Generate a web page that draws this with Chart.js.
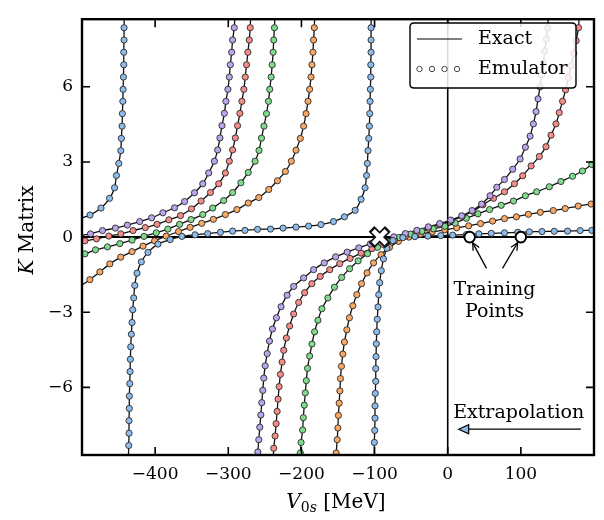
<!DOCTYPE html>
<html>
<head>
<meta charset="utf-8">
<script src="https://cdn.jsdelivr.net/npm/chart.js@4.4.0/dist/chart.umd.min.js"></script>
<style>
  html, body { margin: 0; padding: 0; background: #fff; }
  #wrap { width: 604px; height: 520px; }
</style>
</head>
<body>
<div id="wrap"><canvas id="kChart" width="604" height="520"></canvas></div>
<script>
// axis ranges and ticks
var xRange = [-500, 200];
var yRange = [-8.7, 8.7];
var xTickVals = [-400, -300, -200, -100, 0, 100];
var yTickVals = [-6, -3, 0, 3, 6];

// K matrix vs V0s, one array per branch (between the poles), [V0s, K]
var blue1 = [[-500,0.77],[-489,0.88],[-474,1.16],[-462.3,1.55],[-455.5,1.97],[-452.9,2.46],[-449.7,2.94],[-447,3.45],[-446.2,3.94],[-445.2,4.43],[-444.8,4.93],[-444.2,5.42],[-443.8,5.90],[-443.4,6.39],[-442.9,6.88],[-442.9,7.38],[-442.5,7.87],[-442.5,8.36],[-442.3,8.7]];
var blue2 = [[-436.5,-8.7],[-436.1,-8.32],[-435.7,-7.83],[-435.7,-7.33],[-435.3,-6.84],[-435.3,-6.35],[-434.7,-5.85],[-434.3,-5.37],[-433.9,-4.88],[-433.4,-4.38],[-432.5,-3.88],[-431.6,-3.41],[-430.6,-2.90],[-429.3,-2.43],[-427.9,-1.93],[-424.8,-1.44],[-418.9,-0.99],[-409.8,-0.61],[-396.2,-0.28],[-379.4,-0.10],[-363.5,0.03],[-345.4,0.09],[-328.1,0.14],[-310.8,0.19],[-294.1,0.24],[-277.3,0.27],[-260,0.31],[-242.3,0.32],[-225.1,0.36],[-207.4,0.40],[-190.2,0.44],[-173.3,0.50],[-156.2,0.62],[-141.2,0.81],[-126.6,1.07],[-118.4,1.51],[-113,1.97],[-111,2.46],[-109.9,2.94],[-108.9,3.45],[-108,3.94],[-107.1,4.43],[-106.6,4.93],[-106.2,5.42],[-105.8,5.90],[-105.2,6.39],[-105.2,6.88],[-104.8,7.38],[-104.8,7.87],[-104.8,8.36],[-104.6,8.7]];
var blue3 = [[-100.5,-8.7],[-100.3,-8.20],[-99.8,-7.72],[-99.4,-7.23],[-99.4,-6.74],[-99.0,-6.24],[-98.4,-5.76],[-98.4,-5.25],[-98.0,-4.77],[-97.6,-4.26],[-97.1,-3.78],[-96.3,-3.28],[-95.3,-2.79],[-94.3,-2.30],[-93.0,-1.82],[-90.8,-1.34],[-87.8,-0.87],[-83.0,-0.45],[-74.9,-0.14],[-61.3,-0.02],[-44.9,0.02],[-27.2,0.04],[-9.5,0.06],[6.8,0.08],[25.5,0.10],[42.6,0.13],[59.5,0.15],[77.6,0.17],[95.7,0.19],[111.6,0.21],[128.9,0.22],[145.7,0.23],[163.8,0.24],[181.1,0.26],[197,0.27],[200,0.27]];

var purple1 = [[-500,0.07],[-488.4,0.13],[-472,0.26],[-454.3,0.36],[-438,0.48],[-421.1,0.62],[-404.8,0.77],[-389.4,0.97],[-373.5,1.17],[-359.8,1.42],[-346.2,1.77],[-334.9,2.13],[-326.8,2.56],[-319,3.03],[-314.5,3.48],[-311.4,3.96],[-308.6,4.45],[-305.4,4.94],[-303.2,5.42],[-300.5,5.90],[-298.6,6.39],[-297.2,6.88],[-295.4,7.38],[-294.1,7.87],[-291.8,8.36],[-291.2,8.7]];
var purple2 = [[-260,-8.7],[-259.6,-8.58],[-258.3,-8.09],[-256.9,-7.59],[-255.5,-7.10],[-254.2,-6.61],[-252.8,-6.12],[-251.5,-5.63],[-249.6,-5.14],[-246.8,-4.65],[-243.7,-4.15],[-239.6,-3.67],[-234.2,-3.22],[-227.8,-2.78],[-219.6,-2.32],[-210.6,-1.97],[-197,-1.63],[-183.4,-1.30],[-168.8,-1.03],[-153.2,-0.79],[-137.5,-0.60],[-121.6,-0.43],[-105.8,-0.27],[-89.9,-0.13],[-73.5,0.01],[-57.9,0.14],[-42.2,0.27],[-26.5,0.41],[-10.9,0.54],[4.1,0.68],[19.1,0.85],[33.4,1.06],[46.3,1.32],[57.9,1.65],[67.1,1.99],[77.6,2.30],[88.9,2.71],[99,3.12],[106.2,3.59],[112.6,4.03],[117.1,4.52],[120.8,5.01],[123.5,5.52],[126.2,6.00],[128.4,6.47],[130.7,6.95],[132.7,7.43],[134.8,7.90],[136.6,8.36],[137.5,8.7]];

var red1 = [[-500,-0.17],[-496,-0.15],[-480.2,-0.07],[-463.3,0.04],[-447,0.13],[-430.2,0.26],[-413.5,0.38],[-397.5,0.51],[-381.2,0.69],[-365.3,0.86],[-350.3,1.13],[-337.2,1.44],[-324.4,1.78],[-313.1,2.13],[-304,2.56],[-298.6,3.03],[-294.1,3.48],[-290.4,3.96],[-287.3,4.45],[-284.1,4.94],[-281.4,5.42],[-278.7,5.90],[-276.8,6.39],[-275,6.88],[-273.2,7.38],[-271.3,7.87],[-270,8.36],[-269.5,8.7]];
var red2 = [[-238.3,-8.7],[-237.9,-8.43],[-236,-7.94],[-234.6,-7.45],[-233.2,-6.96],[-231.9,-6.47],[-230.5,-5.97],[-228.7,-5.48],[-226.4,-4.99],[-224.2,-4.52],[-220.6,-4.03],[-216.1,-3.55],[-210.6,-3.07],[-203.8,-2.61],[-195.6,-2.22],[-185.8,-1.86],[-174.3,-1.57],[-161.3,-1.30],[-147.7,-1.06],[-133.4,-0.85],[-118.4,-0.64],[-103.5,-0.46],[-88.5,-0.29],[-72.8,-0.12],[-57.9,0.04],[-42.2,0.19],[-26.5,0.35],[-10.9,0.50],[4.8,0.66],[19.7,0.83],[34.4,1.03],[48.1,1.29],[62.6,1.55],[77.6,1.81],[91.2,2.13],[102.5,2.45],[114,2.84],[125.3,3.22],[134.4,3.61],[141.2,4.07],[148,4.52],[152.5,4.97],[157,5.42],[161.1,5.88],[165.1,6.37],[168.8,6.85],[172.2,7.34],[175.6,7.84],[178.8,8.36],[179.5,8.7]];

var green1 = [[-500,-0.69],[-496,-0.67],[-481.6,-0.51],[-465.2,-0.39],[-448.3,-0.26],[-431.6,-0.12],[-415.2,0.03],[-398.5,0.17],[-382.6,0.32],[-366.6,0.51],[-350.9,0.70],[-334.9,0.90],[-321.3,1.16],[-306.3,1.46],[-294.1,1.78],[-282.8,2.17],[-272.7,2.58],[-263.4,3.03],[-258,3.46],[-254.6,3.95],[-251.2,4.43],[-247.8,4.93],[-245.1,5.42],[-243.3,5.90],[-241.4,6.39],[-240,6.88],[-238.7,7.38],[-237.9,7.87],[-236.9,8.36],[-236.5,8.7]];
var green2 = [[-201.7,-8.7],[-201.5,-8.62],[-200.5,-8.20],[-198.4,-7.70],[-197.4,-7.21],[-196.1,-6.71],[-194.7,-6.22],[-193.3,-5.73],[-191.6,-5.24],[-188.8,-4.75],[-185.6,-4.27],[-182,-3.78],[-177.4,-3.32],[-172,-2.86],[-163.8,-2.43],[-154.8,-2.00],[-145,-1.61],[-134.1,-1.26],[-122.5,-0.95],[-109.6,-0.66],[-96,-0.41],[-81.7,-0.19],[-66.7,-0.02],[-51.1,0.12],[-35.4,0.23],[-19.7,0.33],[-4.1,0.43],[10.2,0.56],[25.5,0.75],[41.3,0.93],[57.2,1.10],[73.1,1.27],[89.9,1.44],[106.2,1.65],[121.6,1.81],[138.9,2.01],[154.8,2.22],[170.6,2.43],[184.2,2.64],[197,2.90],[200,2.95]];

var orange1 = [[-500,-1.91],[-489.2,-1.70],[-475.6,-1.39],[-461.9,-1.07],[-447,-0.80],[-431.6,-0.58],[-416.6,-0.36],[-400.7,-0.15],[-384.9,0.04],[-368,0.22],[-352.2,0.39],[-336.3,0.55],[-320.4,0.71],[-304,0.90],[-288.2,1.10],[-272.7,1.36],[-258.3,1.58],[-244.7,1.90],[-232.8,2.25],[-221.9,2.62],[-213.8,3.03],[-207.4,3.47],[-201.5,3.94],[-197,4.43],[-193.7,4.93],[-191,5.42],[-188.8,5.90],[-186.9,6.39],[-185.6,6.88],[-184.2,7.38],[-183.4,7.87],[-182.4,8.36],[-182,8.7]];
var orange2 = [[-152.7,-8.7],[-152.5,-8.62],[-151.1,-8.09],[-150.2,-7.62],[-149.4,-7.12],[-148.4,-6.63],[-147.4,-6.14],[-146.6,-5.65],[-145.3,-5.16],[-143.4,-4.67],[-141.2,-4.19],[-137.9,-3.70],[-134.4,-3.22],[-129.7,-2.74],[-124.3,-2.30],[-117.8,-1.86],[-110.3,-1.43],[-101.4,-1.03],[-91.2,-0.70],[-79.6,-0.41],[-67.4,-0.17],[-53.1,0.00],[-37.4,0.12],[-21.1,0.21],[-4.1,0.29],[12.3,0.37],[28.6,0.45],[44.9,0.54],[61.3,0.64],[77.6,0.74],[93.9,0.81],[110.3,0.91],[126.6,0.99],[144.3,1.06],[160.6,1.14],[178.4,1.24],[196,1.32],[200,1.34]];

// training points and the marked point
var trainV = [30, 100];
var trainK = [0, 0];
var crossPoint = [-93, 0];

var SERIF = '"DejaVu Serif", "Liberation Serif", serif';
var BLUE = '#8bbcec', PURPLE = '#bca4ee', RED = '#f58c88', GREEN = '#7edb8c', ORANGE = '#f8a862';

var branches = [
  [blue1, BLUE], [blue2, BLUE], [blue3, BLUE],
  [purple1, PURPLE], [purple2, PURPLE],
  [red1, RED], [red2, RED],
  [green1, GREEN], [green2, GREEN],
  [orange1, ORANGE], [orange2, ORANGE]
];

function isEdge(p) {
  return p.x <= xRange[0] || p.x >= xRange[1] || Math.abs(p.y) >= yRange[1];
}

var datasets = [];
branches.forEach(function(b) {
  var pts = b[0].map(function(p) { return {x: p[0], y: p[1]}; });
  // exact curve
  datasets.push({
    data: pts, showLine: true, borderColor: '#111', borderWidth: 1.3,
    pointRadius: 0, tension: 0.25, order: 2
  });
  // emulator dots
  datasets.push({
    data: pts, showLine: false, order: 1,
    pointRadius: function(c) { return isEdge(c.raw) ? 0 : 3.1; },
    pointBackgroundColor: b[1], pointBorderColor: '#2a2a2a', pointBorderWidth: 0.9
  });
});

function fmt(v) { return v < 0 ? '\u2212' + Math.abs(v) : '' + v; }

function arrowHeadOpen(ctx, x0, y0, x1, y1, len) {
  var a = Math.atan2(y1 - y0, x1 - x0);
  ctx.beginPath();
  ctx.moveTo(x1 - len * Math.cos(a - 0.45), y1 - len * Math.sin(a - 0.45));
  ctx.lineTo(x1, y1);
  ctx.lineTo(x1 - len * Math.cos(a + 0.45), y1 - len * Math.sin(a + 0.45));
  ctx.stroke();
}

var extras = {
  id: 'extras',
  beforeDatasetsDraw: function(chart) {
    var ctx = chart.ctx, xs = chart.scales.x, ys = chart.scales.y, a = chart.chartArea;
    ctx.save();
    ctx.strokeStyle = '#000';
    var y0 = ys.getPixelForValue(0), x0 = xs.getPixelForValue(0);
    ctx.lineWidth = 2;
    ctx.beginPath(); ctx.moveTo(a.left, y0); ctx.lineTo(a.right, y0); ctx.stroke();
    ctx.lineWidth = 1.6;
    ctx.beginPath(); ctx.moveTo(x0, a.top); ctx.lineTo(x0, a.bottom); ctx.stroke();
    ctx.restore();
  },
  afterDatasetsDraw: function(chart) {
    var ctx = chart.ctx, xs = chart.scales.x, ys = chart.scales.y, a = chart.chartArea;
    ctx.save();

    // marked point (white X)
    var cx = xs.getPixelForValue(crossPoint[0]), cy = ys.getPixelForValue(crossPoint[1]);
    var d = 6.5;
    ctx.lineCap = 'butt';
    ctx.strokeStyle = '#111'; ctx.lineWidth = 8;
    ctx.beginPath();
    ctx.moveTo(cx - d - 1.7, cy - d - 1.7); ctx.lineTo(cx + d + 1.7, cy + d + 1.7);
    ctx.moveTo(cx - d - 1.7, cy + d + 1.7); ctx.lineTo(cx + d + 1.7, cy - d - 1.7);
    ctx.stroke();
    ctx.strokeStyle = '#fff'; ctx.lineWidth = 4.6;
    ctx.beginPath();
    ctx.moveTo(cx - d, cy - d); ctx.lineTo(cx + d, cy + d);
    ctx.moveTo(cx - d, cy + d); ctx.lineTo(cx + d, cy - d);
    ctx.stroke();

    // training points
    ctx.lineWidth = 2; ctx.strokeStyle = '#000'; ctx.fillStyle = '#fff';
    var tp = [];
    for (var i = 0; i < trainV.length; i++) {
      var px = xs.getPixelForValue(trainV[i]), py = ys.getPixelForValue(trainK[i]);
      tp.push([px, py]);
      ctx.beginPath(); ctx.arc(px, py, 5.3, 0, Math.PI * 2); ctx.fill(); ctx.stroke();
    }

    // annotation texts
    ctx.fillStyle = '#000';
    ctx.font = '19px ' + SERIF;
    ctx.textAlign = 'center'; ctx.textBaseline = 'alphabetic';
    var tx = xs.getPixelForValue(64);
    ctx.fillText('Training', tx, ys.getPixelForValue(-2.33));
    ctx.fillText('Points', tx, ys.getPixelForValue(-3.2));
    ctx.fillText('Extrapolation', xs.getPixelForValue(97), ys.getPixelForValue(-7.22));

    // arrows to the training points
    ctx.lineWidth = 1.3; ctx.strokeStyle = '#000';
    var starts = [[tx - 8, ys.getPixelForValue(-1.25)], [tx + 8, ys.getPixelForValue(-1.25)]];
    for (var j = 0; j < 2; j++) {
      var sx = starts[j][0], sy = starts[j][1];
      var ex = tp[j][0], ey = tp[j][1];
      var ang = Math.atan2(ey - sy, ex - sx);
      ex -= 6.5 * Math.cos(ang); ey -= 6.5 * Math.sin(ang);
      ctx.beginPath(); ctx.moveTo(sx, sy); ctx.lineTo(ex, ey); ctx.stroke();
      arrowHeadOpen(ctx, sx, sy, ex, ey, 8);
    }

    // extrapolation arrow
    var ay = ys.getPixelForValue(-7.67);
    var ax0 = xs.getPixelForValue(182), ax1 = xs.getPixelForValue(15);
    ctx.beginPath(); ctx.moveTo(ax0, ay); ctx.lineTo(ax1 + 9, ay); ctx.stroke();
    ctx.beginPath();
    ctx.moveTo(ax1, ay); ctx.lineTo(ax1 + 10, ay - 4.5); ctx.lineTo(ax1 + 10, ay + 4.5); ctx.closePath();
    ctx.fillStyle = BLUE; ctx.fill(); ctx.lineWidth = 1.2; ctx.stroke();

    // frame and inward ticks
    ctx.strokeStyle = '#000'; ctx.lineWidth = 2.4;
    ctx.strokeRect(a.left, a.top, a.right - a.left, a.bottom - a.top);
    ctx.lineWidth = 1.6;
    ctx.beginPath();
    xTickVals.forEach(function(v) {
      var p = xs.getPixelForValue(v);
      ctx.moveTo(p, a.bottom); ctx.lineTo(p, a.bottom - 8);
      ctx.moveTo(p, a.top); ctx.lineTo(p, a.top + 8);
    });
    yTickVals.forEach(function(v) {
      var p = ys.getPixelForValue(v);
      ctx.moveTo(a.left, p); ctx.lineTo(a.left + 8, p);
      ctx.moveTo(a.right, p); ctx.lineTo(a.right - 8, p);
    });
    ctx.stroke();

    // legend
    var lx = 410, ly = 23, lw = 166, lh = 65, r = 4;
    ctx.beginPath();
    ctx.moveTo(lx + r, ly); ctx.lineTo(lx + lw - r, ly); ctx.quadraticCurveTo(lx + lw, ly, lx + lw, ly + r);
    ctx.lineTo(lx + lw, ly + lh - r); ctx.quadraticCurveTo(lx + lw, ly + lh, lx + lw - r, ly + lh);
    ctx.lineTo(lx + r, ly + lh); ctx.quadraticCurveTo(lx, ly + lh, lx, ly + lh - r);
    ctx.lineTo(lx, ly + r); ctx.quadraticCurveTo(lx, ly, lx + r, ly);
    ctx.closePath();
    ctx.fillStyle = 'rgba(255,255,255,0.85)'; ctx.fill();
    ctx.lineWidth = 1.4; ctx.strokeStyle = '#000'; ctx.stroke();
    ctx.lineWidth = 1.2;
    ctx.beginPath(); ctx.moveTo(417, 39); ctx.lineTo(462, 39); ctx.stroke();
    ctx.fillStyle = '#fff'; ctx.strokeStyle = '#333'; ctx.lineWidth = 0.9;
    [419.5, 432, 444.5, 457].forEach(function(q) {
      ctx.beginPath(); ctx.arc(q, 69, 2.7, 0, Math.PI * 2); ctx.fill(); ctx.stroke();
    });
    ctx.fillStyle = '#000';
    ctx.font = '19px ' + SERIF; ctx.textAlign = 'left'; ctx.textBaseline = 'middle';
    ctx.fillText('Exact', 478, 39);
    ctx.fillText('Emulator', 478, 69);

    // axis titles
    ctx.textBaseline = 'alphabetic';
    var fI = 'italic 20px ' + SERIF, fN = '20px ' + SERIF, fS = '14px ' + SERIF, fSI = 'italic 14px ' + SERIF;
    ctx.font = fI; var wV = ctx.measureText('V').width;
    ctx.font = fS; var w0 = ctx.measureText('0').width;
    ctx.font = fSI; var ws = ctx.measureText('s').width;
    ctx.font = fN; var wM = ctx.measureText(' [MeV]').width;
    var xt = 336 - (wV + w0 + ws + wM) / 2, bt = 508;
    ctx.font = fI; ctx.fillText('V', xt, bt); xt += wV;
    ctx.font = fS; ctx.fillText('0', xt, bt + 4); xt += w0;
    ctx.font = fSI; ctx.fillText('s', xt, bt + 4); xt += ws;
    ctx.font = fN; ctx.fillText(' [MeV]', xt, bt);

    ctx.translate(33, 230); ctx.rotate(-Math.PI / 2);
    ctx.font = fI; var wK = ctx.measureText('K').width;
    ctx.font = fN; var wMt = ctx.measureText(' Matrix').width;
    var k0 = -(wK + wMt) / 2;
    ctx.font = fI; ctx.fillText('K', k0, 0);
    ctx.font = fN; ctx.fillText(' Matrix', k0 + wK, 0);
    ctx.restore();
  }
};

new Chart(document.getElementById('kChart'), {
  type: 'scatter',
  data: { datasets: datasets },
  options: {
    responsive: false,
    animation: false,
    layout: { padding: { top: 5, right: 10, left: 0, bottom: 0 } },
    plugins: { legend: { display: false }, tooltip: { enabled: false } },
    scales: {
      x: {
        type: 'linear', min: xRange[0], max: xRange[1],
        afterBuildTicks: function(s) { s.ticks = xTickVals.map(function(v) { return {value: v}; }); },
        afterFit: function(s) { s.height = 65; },
        grid: { display: false, drawTicks: false },
        border: { display: false },
        ticks: { autoSkip: false, maxRotation: 0, color: '#000', padding: 9,
                 font: { family: SERIF, size: 17 }, callback: fmt }
      },
      y: {
        type: 'linear', min: yRange[0], max: yRange[1],
        afterBuildTicks: function(s) { s.ticks = yTickVals.map(function(v) { return {value: v}; }); },
        afterFit: function(s) { s.width = 82; },
        grid: { display: false, drawTicks: false },
        border: { display: false },
        ticks: { autoSkip: false, color: '#000', padding: 9,
                 font: { family: SERIF, size: 17 }, callback: fmt }
      }
    }
  },
  plugins: [extras]
});
</script>
</body>
</html>
